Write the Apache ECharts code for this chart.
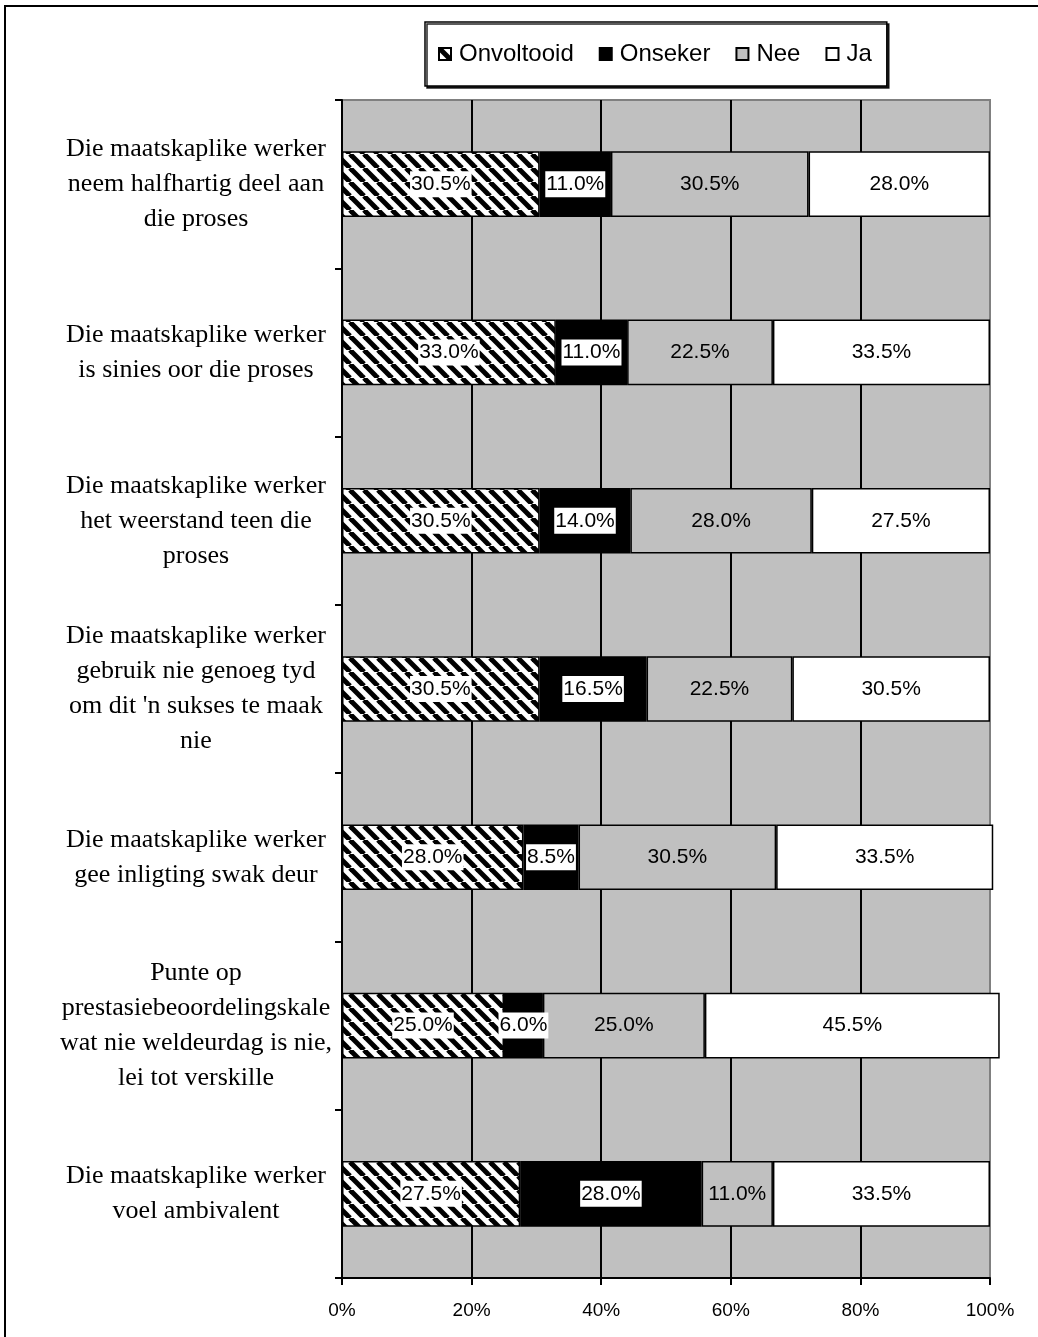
<!DOCTYPE html>
<html>
<head>
<meta charset="utf-8">
<script src="https://cdn.jsdelivr.net/npm/echarts@6/dist/echarts.min.js"></script>
<style>
  html, body { margin: 0; padding: 0; background: #fff; }
  #chart { width: 1038px; height: 1337px; }
</style>
</head>
<body>
<div id="chart"></div>
<script>
// Statements (top to bottom)
const categories = [
  "Die maatskaplike werker\nneem halfhartig deel aan\ndie proses",
  "Die maatskaplike werker\nis sinies oor die proses",
  "Die maatskaplike werker\nhet weerstand teen die\nproses",
  "Die maatskaplike werker\ngebruik nie genoeg tyd\nom dit 'n sukses te maak\nnie",
  "Die maatskaplike werker\ngee inligting swak deur",
  "Punte op\nprestasiebeoordelingskale\nwat nie weldeurdag is nie,\nlei tot verskille",
  "Die maatskaplike werker\nvoel ambivalent"
];

const seriesNames = ["Onvoltooid", "Onseker", "Nee", "Ja"];

// Percentages per response
const onvoltooid = [30.5, 33.0, 30.5, 30.5, 28.0, 25.0, 27.5];
const onseker    = [11.0, 11.0, 14.0, 16.5,  8.5,  6.0, 28.0];
const nee        = [30.5, 22.5, 28.0, 22.5, 30.5, 25.0, 11.0];
const ja         = [28.0, 33.5, 27.5, 30.5, 33.5, 45.5, 33.5];

const xTicks = [0, 20, 40, 60, 80, 100];

// Diagonal hatch fill for the "Onvoltooid" segments
function makeHatch() {
  const s = 14;
  const c = document.createElement('canvas');
  c.width = s; c.height = s;
  const g = c.getContext('2d');
  g.fillStyle = '#fff';
  g.fillRect(0, 0, s, s);
  g.strokeStyle = '#000';
  g.lineWidth = 5;
  for (let k = -1; k <= 1; k++) {
    g.beginPath();
    g.moveTo(k * s, 0);
    g.lineTo(k * s + s, s);
    g.stroke();
  }
  return c;
}
const hatch = { image: makeHatch(), repeat: 'repeat' };

const fills = [hatch, '#000000', '#c0c0c0', '#ffffff'];
const values = [onvoltooid, onseker, nee, ja];
const boxed = [true, true, false, false];

const labelFont = 'Liberation Sans, Arial, sans-serif';

const series = seriesNames.map((name, i) => ({
  name: name,
  type: 'bar',
  stack: 'total',
  barWidth: '39%',
  clip: false,
  data: values[i],
  itemStyle: { color: fills[i], borderColor: '#000', borderWidth: 1.5 },
  label: {
    show: true,
    position: 'inside',
    formatter: p => p.value.toFixed(1) + '%',
    fontFamily: labelFont,
    fontSize: 21,
    color: '#000',
    backgroundColor: boxed[i] ? '#fff' : 'transparent',
    padding: boxed[i] ? [3, 1, 2, 1] : 0
  },
  emphasis: { disabled: true }
}));

const chart = echarts.init(document.getElementById('chart'), null, { renderer: 'canvas' });
chart.setOption({
  animation: false,
  backgroundColor: '#fff',
  graphic: [{
    type: 'rect',
    shape: { x: 5, y: 6, width: 1100, height: 1400 },
    style: { fill: 'none', stroke: '#000', lineWidth: 2 },
    silent: true,
    z: 100
  }],
  legend: {
    data: seriesNames,
    icon: 'rect',
    left: 425,
    top: 22,
    padding: [20, 15, 20, 13],
    itemGap: 25,
    itemWidth: 12,
    itemHeight: 12,
    borderColor: '#000',
    borderWidth: 1.5,
    backgroundColor: '#fff',
    shadowColor: 'rgba(0,0,0,0.85)',
    shadowOffsetX: 2,
    shadowOffsetY: 2,
    shadowBlur: 0,
    textStyle: { fontFamily: labelFont, fontSize: 24, color: '#000', padding: [0, 0, 0, 3] },
    selectedMode: false
  },
  grid: {
    left: 342,
    right: 48,
    top: 100,
    bottom: 59,
    show: true,
    backgroundColor: '#c0c0c0',
    borderColor: '#808080',
    borderWidth: 2
  },
  xAxis: {
    type: 'value',
    min: xTicks[0],
    max: xTicks[xTicks.length - 1],
    interval: 20,
    axisLine: { show: true, lineStyle: { color: '#000', width: 2 } },
    axisTick: { show: true, length: 7, lineStyle: { color: '#000', width: 2 } },
    axisLabel: {
      formatter: v => v + '%',
      fontFamily: labelFont,
      fontSize: 19,
      color: '#000',
      margin: 23
    },
    splitLine: { show: true, showMinLine: false, showMaxLine: false, lineStyle: { color: '#000', width: 2 } }
  },
  yAxis: {
    type: 'category',
    inverse: true,
    data: categories,
    axisLine: { show: true, lineStyle: { color: '#000', width: 2 } },
    axisTick: { show: true, length: 7, lineStyle: { color: '#000', width: 2 } },
    axisLabel: {
      fontFamily: 'Liberation Serif, Times New Roman, serif',
      fontSize: 26,
      lineHeight: 35,
      color: '#000',
      align: 'center',
      margin: 146
    },
    splitLine: { show: false }
  },
  series: series
});
</script>
</body>
</html>
